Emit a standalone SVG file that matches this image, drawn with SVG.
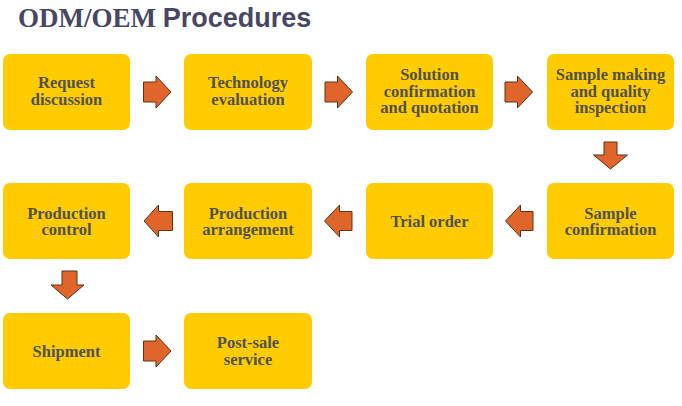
<svg xmlns="http://www.w3.org/2000/svg" width="682" height="406" viewBox="0 0 682 406">
<style>
.box{fill:#FFCC00;}
.t{font-family:"Liberation Serif",serif;font-weight:bold;font-size:16.5px;fill:#52504a;text-anchor:middle;}
.arr{fill:#E0652A;stroke:#5a3418;stroke-width:1;stroke-linejoin:miter;}
</style>
<rect width="682" height="406" fill="#ffffff"/>
<text x="18" y="27" font-family="'Liberation Serif',serif" font-weight="bold" font-size="27" fill="#474763">ODM/OEM <tspan font-family="'Liberation Sans',sans-serif">Procedures</tspan></text>
<g id="n1"><rect class="box" x="3" y="54" width="127" height="76" rx="7"/><text class="t" x="66.5"><tspan x="66.5" y="88">Request</tspan><tspan x="66.5" y="104.5">discussion</tspan></text></g>
<g id="n2"><rect class="box" x="184" y="54" width="128" height="76" rx="7"/><text class="t"><tspan x="248" y="88">Technology</tspan><tspan x="248" y="104.5">evaluation</tspan></text></g>
<g id="n3"><rect class="box" x="366" y="54" width="127" height="76" rx="7"/><text class="t"><tspan x="429.5" y="80">Solution</tspan><tspan x="429.5" y="96.5">confirmation</tspan><tspan x="429.5" y="113">and quotation</tspan></text></g>
<g id="n4"><rect class="box" x="547" y="54" width="127" height="76" rx="7"/><text class="t"><tspan x="610.5" y="80">Sample making</tspan><tspan x="610.5" y="96.5">and quality</tspan><tspan x="610.5" y="113">inspection</tspan></text></g>
<g id="n5"><rect class="box" x="547" y="183" width="127" height="76" rx="7"/><text class="t"><tspan x="610.5" y="218.5">Sample</tspan><tspan x="610.5" y="235">confirmation</tspan></text></g>
<g id="n6"><rect class="box" x="366" y="183" width="127" height="76" rx="7"/><text class="t"><tspan x="429.5" y="227">Trial order</tspan></text></g>
<g id="n7"><rect class="box" x="184" y="183" width="128" height="76" rx="7"/><text class="t"><tspan x="248" y="218.5">Production</tspan><tspan x="248" y="235">arrangement</tspan></text></g>
<g id="n8"><rect class="box" x="3" y="183" width="127" height="76" rx="7"/><text class="t"><tspan x="66.5" y="218.5">Production</tspan><tspan x="66.5" y="235">control</tspan></text></g>
<g id="n9"><rect class="box" x="3" y="313" width="127" height="76" rx="7"/><text class="t"><tspan x="66.5" y="356.5">Shipment</tspan></text></g>
<g id="n10"><rect class="box" x="184" y="313" width="128" height="76" rx="7"/><text class="t"><tspan x="248" y="348">Post-sale</tspan><tspan x="248" y="364.5">service</tspan></text></g>
<g id="connectors">
<path class="arr" d="M143.5 82 H156 V76 L171 92 L156 108 V102 H143.5 Z"/>
<path class="arr" d="M325 82 H337.5 V76 L352.5 92 L337.5 108 V102 H325 Z"/>
<path class="arr" d="M505 82 H517.5 V76 L532.5 92 L517.5 108 V102 H505 Z"/>
<path class="arr" d="M604 142 H617 V155 H627.5 L610.5 169 L593.5 155 H604 Z"/>
<path class="arr" d="M533 211.5 H520.5 V205 L505.5 221 L520.5 237 V230.5 H533 Z"/>
<path class="arr" d="M352 211.5 H339.5 V205 L324.5 221 L339.5 237 V230.5 H352 Z"/>
<path class="arr" d="M172.5 211.5 H158.5 V205 L144 221 L158.5 237 V230.5 H172.5 Z"/>
<path class="arr" d="M62 271 H77 V285 H84 L67.5 299 L51 285 H62 Z"/>
<path class="arr" d="M143.5 341 H156 V335 L171 351 L156 367 V361 H143.5 Z"/>
</g>
</svg>
